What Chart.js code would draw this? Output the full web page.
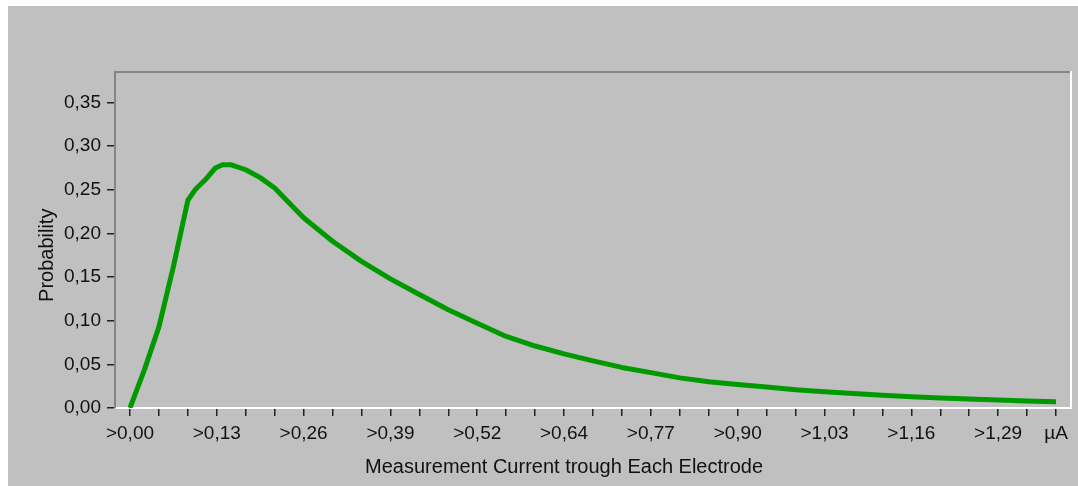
<!DOCTYPE html>
<html>
<head>
<meta charset="utf-8">
<title>Measurement Current Distribution</title>
<script src="https://cdn.jsdelivr.net/npm/chart.js@4/dist/chart.umd.min.js"></script>
<style>
  html, body { margin: 0; padding: 0; background: #ffffff; }
  #panel { position: absolute; left: 8px; top: 6px; width: 1070px; height: 480px; background: #c0c0c0; }
  canvas { display: block; }
</style>
</head>
<body>
<div id="panel"><canvas id="chart" width="1070" height="480"></canvas></div>
<script>
// Current step (in x-axis tick units) and the probability measured there
const currentSteps = [0, 0.5, 1, 1.5, 2, 2.25, 2.6, 2.95, 3.2, 3.5, 4, 4.5, 5, 6, 7, 8,
                      9, 10, 11, 12, 13, 14, 15, 16, 17, 18, 19, 20, 21, 22, 23, 24,
                      25, 26, 27, 28, 29, 30, 31, 32];
const probability = [0.000, 0.044, 0.093, 0.162, 0.238, 0.250, 0.2615, 0.275, 0.2787,
                     0.2787, 0.273, 0.264, 0.252, 0.218, 0.191, 0.168, 0.148, 0.130,
                     0.1125, 0.097, 0.082, 0.071, 0.062, 0.054, 0.0465, 0.0405, 0.0345,
                     0.0300, 0.0270, 0.0240, 0.0210, 0.0185, 0.0165, 0.0145, 0.0128,
                     0.0115, 0.0103, 0.0092, 0.0081, 0.0072];

// Axis labelling
const xTickCount = 33;
const xTickLabels = ['>0,00', '>0,13', '>0,26', '>0,39', '>0,52', '>0,64',
                     '>0,77', '>0,90', '>1,03', '>1,16', '>1,29'];
const xLabelEvery = 3;
const xUnitLabel = 'µA';
const yTickValues = [0.00, 0.05, 0.10, 0.15, 0.20, 0.25, 0.30, 0.35];
const yAxisMax = 0.385;
const xTitle = 'Measurement Current trough Each Electrode';
const yTitle = 'Probability';

const FONT = { family: '"Liberation Sans", Arial, sans-serif', size: 19 };
const TITLE_SIZE = 20;
const TEXT = '#111111';

// Sunken frame around the plot (dark top/left, white bottom/right) and axis titles
const framePlugin = {
  id: 'frame',
  beforeDatasetsDraw(chart) {
    const { ctx, chartArea: a } = chart;
    ctx.save();
    ctx.lineWidth = 2;
    ctx.strokeStyle = '#858585';
    ctx.beginPath();
    ctx.moveTo(a.left - 1, a.top);
    ctx.lineTo(a.right, a.top);
    ctx.stroke();
    ctx.strokeStyle = '#ffffff';
    ctx.beginPath();
    ctx.moveTo(a.right, a.top - 1);
    ctx.lineTo(a.right, a.bottom + 1);
    ctx.stroke();
    ctx.restore();
  },
  afterDraw(chart) {
    const { ctx, scales: { x, y } } = chart;
    ctx.save();
    ctx.font = `${TITLE_SIZE}px ${FONT.family}`;
    ctx.fillStyle = TEXT;
    ctx.textAlign = 'center';
    ctx.textBaseline = 'middle';
    // horizontal title, centred under the labelled ticks
    const lastLabelled = (xTickLabels.length - 1) * xLabelEvery;
    const cx = (x.getPixelForValue(0) + x.getPixelForValue(lastLabelled)) / 2;
    ctx.fillText(xTitle, cx, 461);
    // vertical title, centred on the labelled value range
    const top = y.getPixelForValue(yTickValues[yTickValues.length - 1]);
    const bottom = y.getPixelForValue(yTickValues[0]);
    ctx.translate(39, (top + bottom) / 2);
    ctx.rotate(-Math.PI / 2);
    ctx.fillText(yTitle, 0, 0);
    ctx.restore();
  }
};

new Chart(document.getElementById('chart'), {
  type: 'line',
  data: {
    datasets: [{
      data: currentSteps.map((s, i) => ({ x: s, y: probability[i] })),
      borderColor: '#009a00',
      borderWidth: 5,
      borderJoinStyle: 'round',
      tension: 0,
      pointRadius: 0,
      fill: false
    }]
  },
  options: {
    responsive: false,
    animation: false,
    devicePixelRatio: 1,
    layout: { padding: { top: 66, right: 7, left: 0, bottom: 0 } },
    plugins: { legend: { display: false }, tooltip: { enabled: false } },
    scales: {
      x: {
        type: 'linear',
        min: -0.518,
        max: xTickCount - 1 + 0.518,
        afterBuildTicks(scale) {
          scale.ticks = Array.from({ length: xTickCount }, (_, i) => ({ value: i }));
        },
        afterFit(scale) { scale.height = 78; },
        ticks: {
          autoSkip: false,
          maxRotation: 0,
          padding: 6,
          color: TEXT,
          font: FONT,
          callback(value, index) {
            if (index === xTickCount - 1) return xUnitLabel;
            if (index % xLabelEvery === 0) return xTickLabels[index / xLabelEvery] ?? '';
            return '';
          }
        },
        grid: {
          drawOnChartArea: false,
          drawTicks: true,
          tickLength: 8,
          color: '#222222',
          lineWidth: 1.5
        },
        border: { display: true, color: '#ffffff', width: 2 }
      },
      y: {
        type: 'linear',
        min: 0,
        max: yAxisMax,
        afterBuildTicks(scale) {
          scale.ticks = yTickValues.map(v => ({ value: v }));
        },
        afterFit(scale) { scale.width = 107; },
        ticks: {
          padding: 6,
          color: TEXT,
          font: FONT,
          callback(value) { return value.toFixed(2).replace('.', ','); }
        },
        grid: {
          drawOnChartArea: false,
          drawTicks: true,
          tickLength: 8,
          color: '#222222',
          lineWidth: 1.5
        },
        border: { display: true, color: '#858585', width: 2 }
      }
    }
  },
  plugins: [framePlugin]
});
</script>
</body>
</html>
